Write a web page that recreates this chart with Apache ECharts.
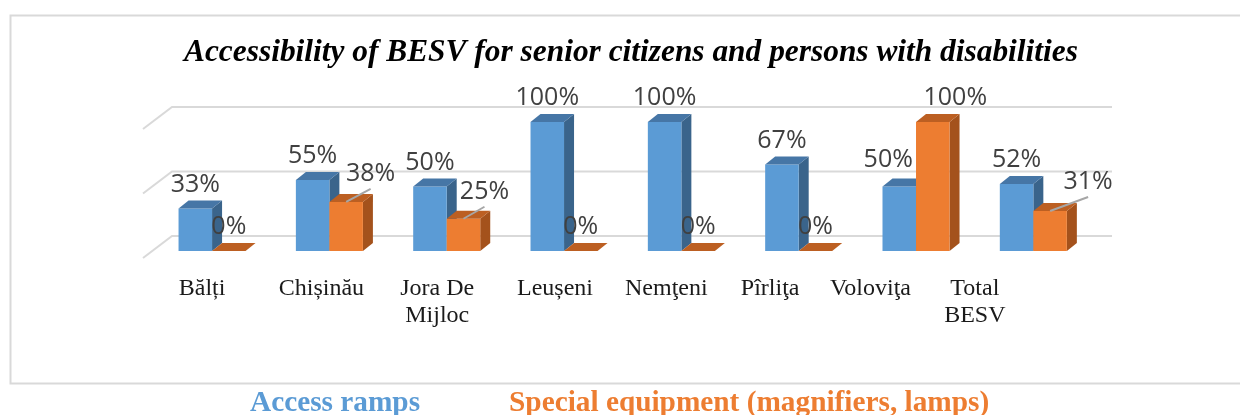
<!DOCTYPE html>
<html><head><meta charset="utf-8">
<script src="https://cdn.jsdelivr.net/npm/echarts@6/dist/echarts.min.js"></script>
<style>html,body{margin:0;padding:0;background:#fff}#c{width:1240px;height:415px}</style>
</head><body><div id="c"></div>
<script>
// ---- data ----
const categories = ['Bălți', 'Chișinău', 'Jora De\nMijloc', 'Leușeni', 'Nemţeni', 'Pîrliţa', 'Voloviţa', 'Total\nBESV'];
const accessRamps = [33, 55, 50, 100, 100, 67, 50, 52];
const specialEquipment = [0, 38, 25, 0, 0, 0, 100, 31];
const gridValues = [0, 50, 100];
const seriesNames = ['Access ramps', 'Special equipment (magnifiers, lamps)'];
const titleText = 'Accessibility of BESV for senior citizens and persons with disabilities';

// ---- styling ----
const BAR_FRAC = 0.2857;
const DX = 10, DY = -8;               // bar depth
const BACK_DY = -15, BACK_DX_L = 18.6, BACK_DX_R = 20, SIDE_DX = -29, SIDE_DY = 22;
const palette = [
  { front: '#5B9BD5', top: '#4676A6', side: '#3A648B' },
  { front: '#ED7D31', top: '#BC5F22', side: '#A4521C' }
];
// label nudges (seriesIndex-dataIndex): [dx, dy, leader]
const labelNudge = {
  '1-1': [24.5, -4, true],
  '1-2': [21, -3, true],
  '1-7': [38, -5, true],
  '0-6': [-11, -3, false],
  '1-6': [22.5, 0, false]
};
const catShift = [10, 8, 9.5, 9, 15, 28.5, 45.5, 58.5];

function barRenderer(sIdx) {
  const col = palette[sIdx];
  return function (params, api) {
    const i = api.value(0), v = api.value(1);
    const base = api.coord([i, 0]), top = api.coord([i, v]);
    const bw = api.size([1, 0])[0] * BAR_FRAC;
    const x0 = sIdx === 0 ? base[0] - bw : base[0];
    const x1 = x0 + bw, yb = base[1], yt = top[1];
    const ch = [];
    if (yb - yt > 0.5) {
      ch.push({ type: 'polygon', shape: { points: [[x1, yt], [x1 + DX, yt + DY], [x1 + DX, yb + DY], [x1, yb]] }, style: { fill: col.side } });
      ch.push({ type: 'rect', shape: { x: x0, y: yt, width: bw, height: yb - yt }, style: { fill: col.front } });
    }
    ch.push({ type: 'polygon', shape: { points: [[x0, yt], [x1, yt], [x1 + DX, yt + DY], [x0 + DX, yt + DY]] }, style: { fill: col.top } });
    const cx = x0 + bw / 2;
    const n = labelNudge[sIdx + '-' + params.dataIndex] || [0, 0, false];
    const lx = cx + n[0], ly = yt - 24 + n[1];
    if (n[2]) {
      ch.push({ type: 'line', shape: { x1: cx, y1: yt, x2: lx, y2: ly + 15 }, style: { stroke: '#a6a6a6', lineWidth: 2 }, z2: 90 });
    }
    ch.push({ type: 'text', x: lx, y: ly, z2: 100,
      style: { text: v + '%', fill: '#404040', font: '25px "Open Sans"', align: 'center', verticalAlign: 'middle' } });
    return { type: 'group', children: ch };
  };
}

function gridRenderer(params, api) {
  const v = api.value(1);
  const cs = params.coordSys;
  const y = api.coord([0, v])[1] + BACK_DY;
  const xl = cs.x + BACK_DX_L, xr = cs.x + cs.width + BACK_DX_R;
  return { type: 'polyline', shape: { points: [[xl + SIDE_DX, y + SIDE_DY], [xl, y], [xr, y]] },
    style: { stroke: '#d9d9d9', lineWidth: 2, fill: null } };
}

const rich = {};
catShift.forEach((s, i) => {
  rich['s' + i] = { fontFamily: 'Liberation Serif', fontSize: 24, color: '#1a1a1a', lineHeight: 27, padding: [0, 2 * s, 0, 0] };
});

const chart = echarts.init(document.getElementById('c'), null, { renderer: 'canvas' });
chart.setOption({
  backgroundColor: '#fff',
  animation: false,
  graphic: [{ type: 'rect', left: 8, top: 13, shape: { width: 1260, height: 368 }, style: { fill: 'none', stroke: '#d9d9d9', lineWidth: 2 }, silent: true }],
  title: {
    text: titleText, left: 184, top: 37, padding: 0,
    textStyle: { fontFamily: 'Liberation Serif', fontStyle: 'italic', fontWeight: 'bold', fontSize: 31.4, color: '#000' }
  },
  legend: {
    left: 240, top: 384, icon: 'rect', itemWidth: 0, itemHeight: 0, itemGap: 84, selectedMode: false,
    textStyle: { fontFamily: 'Liberation Serif', fontWeight: 'bold', fontSize: 29.3 },
    data: [
      { name: seriesNames[0], textStyle: { color: palette[0].front } },
      { name: seriesNames[1], textStyle: { color: palette[1].front } }
    ]
  },
  grid: { left: 153.4, right: 148, top: 122, bottom: 164 },
  xAxis: {
    type: 'category', data: categories, boundaryGap: true,
    axisLine: { show: false }, axisTick: { show: false },
    axisLabel: {
      interval: 0, margin: 24,
      formatter: (val, idx) => val.split('\n').map(l => '{s' + idx + '|' + l + '}').join('\n'),
      rich: rich
    }
  },
  yAxis: { type: 'value', min: 0, max: 100, show: false },
  series: [
    { type: 'custom', name: 'grid', z: 1, silent: true, clip: false, renderItem: gridRenderer,
      encode: { x: 0, y: 1 }, data: gridValues.map(v => [0, v]) },
    { type: 'custom', name: seriesNames[0], z: 2, clip: false, renderItem: barRenderer(0),
      encode: { x: 0, y: 1 }, itemStyle: { color: palette[0].front }, data: accessRamps.map((v, i) => [i, v]) },
    { type: 'custom', name: seriesNames[1], z: 2, clip: false, renderItem: barRenderer(1),
      encode: { x: 0, y: 1 }, itemStyle: { color: palette[1].front }, data: specialEquipment.map((v, i) => [i, v]) }
  ]
});
</script></body></html>
